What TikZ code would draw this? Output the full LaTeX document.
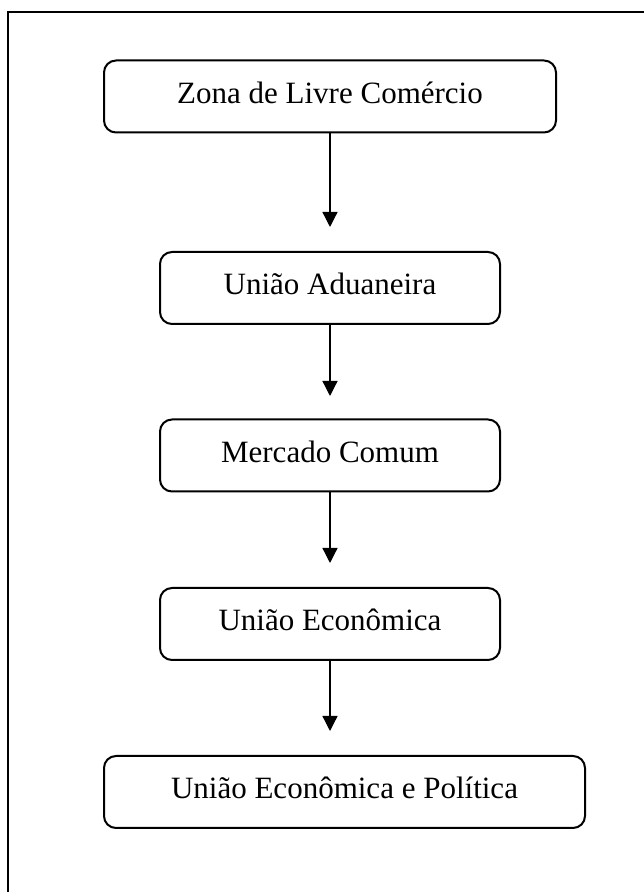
\documentclass[tikz,border=0pt]{standalone}
\usepackage{fontspec}
\setmainfont{Liberation Serif}
\usepackage{tikz}
\usetikzlibrary{arrows.meta}
\pgfdeclarelayer{bg}
\pgfsetlayers{bg,main}

\tikzset{
    caixa/.style={draw, line width=2pt, rounded corners=12pt, minimum height=72pt,
        inner sep=0pt, text height=22pt, text depth=8pt,
        font=\fontsize{31pt}{36pt}\selectfont},
    seta/.style={-{Triangle[width=15pt,length=15pt]}, line width=1.3pt},
}

\begin{document}
\begin{tikzpicture}[x=1pt,y=1pt]
    \useasboundingbox (0,0) rectangle (644,892);
    \coordinate (fb) at (7.5,0);
    \coordinate (fr) at (644,879.5);
    \draw[line width=2pt] (fb) |- (fr);

    \node (zona) [caixa, minimum width=452pt] at (330, 795.5) {Zona de Livre Comércio};
    \node (aduaneira) [caixa, minimum width=340pt] at (330, 604) {União Aduaneira};
    \node (mercado) [caixa, minimum width=340pt] at (330, 436.5) {Mercado Comum};
    \node (economica) [caixa, minimum width=340pt] at (330, 268) {União Econômica};
    \node (politica) [caixa, minimum width=481pt] at (344.5, 100) {União Econômica e Política};

    \coordinate (p1) at (330, 665);
    \coordinate (p2) at (330, 496);
    \coordinate (p3) at (330, 329);
    \coordinate (p4) at (330, 161);

    \begin{pgfonlayer}{bg}
        \draw (zona) edge[seta] (p1);
        \draw (aduaneira) edge[seta] (p2);
        \draw (mercado) edge[seta] (p3);
        \draw (economica) edge[seta] (p4);
    \end{pgfonlayer}
\end{tikzpicture}
\end{document}
